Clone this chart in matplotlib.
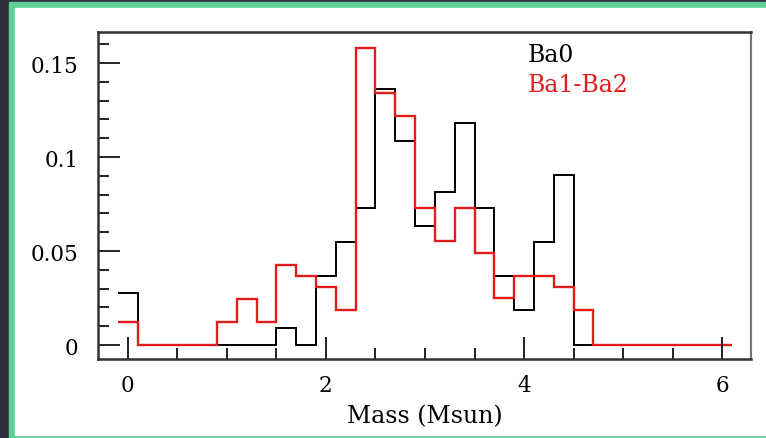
import numpy as np
import matplotlib
matplotlib.use("Agg")
import matplotlib.pyplot as plt
from matplotlib.patches import Rectangle
from matplotlib.ticker import MultipleLocator

# Mass histogram, fraction per 0.2 Msun bin (bins centred on 0.0 ... 6.0)
bin_edges = np.linspace(-0.1, 6.1, 32)
ba0 = [0.0277, 0, 0, 0, 0, 0, 0, 0, 0.0092, 0,
       0.0365, 0.0546, 0.0729, 0.1363, 0.1087, 0.0635, 0.0816, 0.1179, 0.0729, 0.0365,
       0.0188, 0.0546, 0.0906, 0, 0, 0, 0, 0, 0, 0, 0]
ba12 = [0.0124, 0, 0, 0, 0, 0.0124, 0.0245, 0.0124, 0.0426, 0.0365,
        0.0307, 0.0188, 0.158, 0.134, 0.1216, 0.0729, 0.0551, 0.0729, 0.0488, 0.0248,
        0.0365, 0.0365, 0.0307, 0.0188, 0, 0, 0, 0, 0, 0, 0]

W, H = 766, 439
fig = plt.figure(figsize=(W / 100, H / 100), dpi=100)
fig.patch.set_facecolor("#2e303e")

# green frame and white card behind the plot
def px_rect(x0, y0, x1, y1, color):
    fig.patches.append(Rectangle((x0 / W, 1 - y1 / H), (x1 - x0) / W, (y1 - y0) / H,
                                 transform=fig.transFigure, color=color, zorder=-5))

px_rect(9, 3, W, 439, "#5ccf95")
px_rect(15, 9, W, 436, "white")

ax = fig.add_axes([98 / W, 1 - 360 / H, 653 / W, 327 / H])
ax.set_facecolor("white")

red = "#e21b1b"
ax.stairs(ba0, bin_edges, baseline=None, color="black", lw=1.4)
ax.stairs(ba12, bin_edges, baseline=None, color=red, lw=1.7)

ax.set_xlim(-0.30, 6.29)
ax.set_ylim(-0.0074, 0.1665)

ax.xaxis.set_major_locator(MultipleLocator(2))
ax.xaxis.set_minor_locator(MultipleLocator(0.5))
ax.yaxis.set_major_locator(MultipleLocator(0.05))
ax.yaxis.set_minor_locator(MultipleLocator(0.01))
ax.set_yticks([0, 0.05, 0.1, 0.15])
ax.set_yticklabels(["0", "0.05", "0.1", "0.15"])

serif = "DejaVu Serif"
ax.tick_params(which="both", direction="in", top=False, right=False,
               color="#222222", width=1.4)
ax.tick_params(which="major", length=16, labelsize=15.5, pad=11)
ax.tick_params(axis="y", which="major", pad=14)
ax.tick_params(which="minor", length=8)
for lab in ax.get_xticklabels() + ax.get_yticklabels():
    lab.set_family(serif)

for side in ["left", "bottom", "top"]:
    ax.spines[side].set_linewidth(1.8)
    ax.spines[side].set_color("#333333")
ax.spines["right"].set_linewidth(1.6)
ax.spines["right"].set_color("#777777")

ax.set_xlabel("Mass (Msun)", family=serif, fontsize=17, labelpad=6)

ax.text(4.04, 0.1545, "Ba0", family=serif, fontsize=17, color="black", va="center")
ax.text(4.04, 0.1388, "Ba1-Ba2", family=serif, fontsize=17, color=red, va="center")

fig.savefig("out.png", dpi=100, facecolor=fig.get_facecolor())
